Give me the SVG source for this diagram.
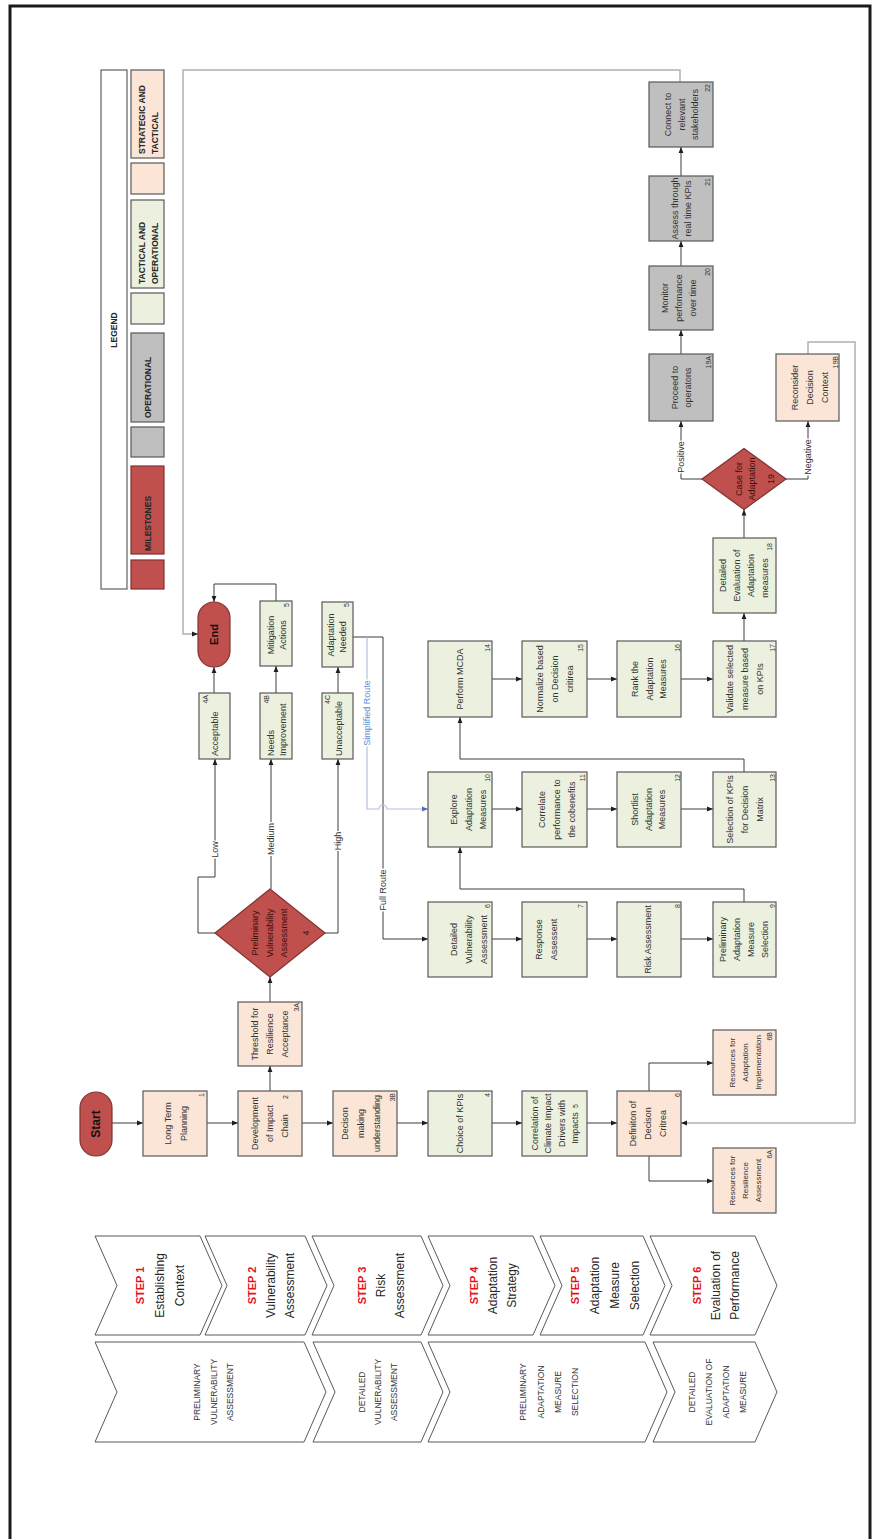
<svg xmlns="http://www.w3.org/2000/svg" width="880" height="1539" viewBox="0 0 880 1539">
<defs>
<style>
text{font-family:"Liberation Sans",Arial,Helvetica,sans-serif}
.bx{stroke:#595959;stroke-width:1.2}
.pe{fill:#fbe5d6}.gr{fill:#ebf1de}.gy{fill:#bfbfbf}
.rd{fill:#c0504d;stroke:#7f3330;stroke-width:1.2}
.t,.t tspan{font-size:9px;fill:#333;text-anchor:middle;dominant-baseline:central}
.t8,.t8 tspan{font-size:8px;fill:#333;text-anchor:middle;dominant-baseline:central}
.ts,.ts tspan{font-size:9px;fill:#333;text-anchor:start;dominant-baseline:central}
.n{font-size:7px;fill:#333;text-anchor:end;dominant-baseline:central}
.dt,.dt tspan{font-size:9px;fill:#3d0f0c;text-anchor:middle;dominant-baseline:central}
.se{font-size:12px;font-weight:bold;fill:#111;text-anchor:middle;dominant-baseline:central}
.c{fill:none;stroke:#3c3c3c;stroke-width:1;marker-end:url(#ah)}
.cg{fill:none;stroke:#b0b0b0;stroke-width:1.5;marker-end:url(#ah)}
.cb{fill:none;stroke:#b4c0dc;stroke-width:1.2;marker-end:url(#ahb)}
.lbg{fill:#fff}
.lb{font-size:9px;fill:#333;text-anchor:middle;dominant-baseline:central}
.lg,.lg tspan{font-size:8.5px;font-weight:bold;fill:#262626;dominant-baseline:central}
.ch{fill:#fff;stroke:#595959;stroke-width:1}
.st,.st tspan{font-size:12px;fill:#262626;text-anchor:middle;dominant-baseline:central}
.st .sr{fill:#e3131b;font-weight:bold;font-size:11px}
.ph,.ph tspan{font-size:8.5px;fill:#333;text-anchor:middle;dominant-baseline:central}
</style>
<marker id="ah" viewBox="0 0 10 10" refX="10" refY="5" markerWidth="6" markerHeight="6" markerUnits="userSpaceOnUse" orient="auto"><path d="M0,1L10,5L0,9z" fill="#1e1e1e"/></marker>
<marker id="ahb" viewBox="0 0 10 10" refX="10" refY="5" markerWidth="6" markerHeight="6" markerUnits="userSpaceOnUse" orient="auto"><path d="M0,1L10,5L0,9z" fill="#4a6fb5"/></marker>
</defs>
<rect x="0" y="0" width="880" height="1539" fill="#fff"/>
<rect x="10" y="6" width="860" height="1545" fill="none" stroke="#1a1a1a" stroke-width="3"/>
<g transform="matrix(0,-1,1,0,0,1539)">

<g id="phases">
<g id="ph-pva"><polygon class="ch" points="97,95 147,117 197,95 197,304 147,326 97,304"/><text class="ph"><tspan x="147" y="197">PRELIMINARY</tspan><tspan x="147" y="214">VULNERABILITY</tspan><tspan x="147" y="230">ASSESSMENT</tspan></text></g>
<g id="ph-dva"><polygon class="ch" points="97,313 147,335 197,313 197,421 147,443 97,421"/><text class="ph"><tspan x="147" y="362">DETAILED</tspan><tspan x="147" y="378">VULNERABILITY</tspan><tspan x="147" y="394">ASSESSMENT</tspan></text></g>
<g id="ph-pams"><polygon class="ch" points="97,428 147,450 197,428 197,645 147,667 97,645"/><text class="ph"><tspan x="147" y="523">PRELIMINARY</tspan><tspan x="147" y="541">ADAPTATION</tspan><tspan x="147" y="558">MEASURE</tspan><tspan x="147" y="575">SELECTION</tspan></text></g>
<g id="ph-deam"><polygon class="ch" points="97,653 147,675 197,653 197,755 147,777 97,755"/><text class="ph"><tspan x="147" y="692">DETAILED</tspan><tspan x="147" y="709">EVALUATION OF</tspan><tspan x="147" y="726">ADAPTATION</tspan><tspan x="147" y="743">MEASURE</tspan></text></g>
</g>

<g id="steps">
<g id="step1"><polygon class="ch" points="204,95 253.5,117 303,95 303,200 253.5,222 204,200"/><text class="st"><tspan class="sr" x="253.5" y="140">STEP 1</tspan><tspan x="253.5" y="160">Establishing</tspan><tspan x="253.5" y="180">Context</tspan></text></g>
<g id="step2"><polygon class="ch" points="204,205 253.5,227 303,205 303,305 253.5,327 204,305"/><text class="st"><tspan class="sr" x="253.5" y="252">STEP 2</tspan><tspan x="253.5" y="271">Vulnerability</tspan><tspan x="253.5" y="290">Assessment</tspan></text></g>
<g id="step3"><polygon class="ch" points="204,312 253.5,334 303,312 303,421 253.5,443 204,421"/><text class="st"><tspan class="sr" x="253.5" y="362">STEP 3</tspan><tspan x="253.5" y="381">Risk</tspan><tspan x="253.5" y="400">Assessment</tspan></text></g>
<g id="step4"><polygon class="ch" points="204,428 253.5,450 303,428 303,533 253.5,555 204,533"/><text class="st"><tspan class="sr" x="253.5" y="474">STEP 4</tspan><tspan x="253.5" y="493">Adaptation</tspan><tspan x="253.5" y="512">Strategy</tspan></text></g>
<g id="step5"><polygon class="ch" points="204,540 253.5,562 303,540 303,643 253.5,665 204,643"/><text class="st"><tspan class="sr" x="253.5" y="575">STEP 5</tspan><tspan x="253.5" y="595">Adaptation</tspan><tspan x="253.5" y="615">Measure</tspan><tspan x="253.5" y="635">Selection</tspan></text></g>
<g id="step6"><polygon class="ch" points="204,650 253.5,672 303,650 303,755 253.5,777 204,755"/><text class="st"><tspan class="sr" x="253.5" y="697">STEP 6</tspan><tspan x="253.5" y="716">Evaluation of</tspan><tspan x="253.5" y="735">Performance</tspan></text></g>
</g>

<g id="legend">
<rect x="950" y="101" width="519" height="26" fill="#fff" stroke="#404040" stroke-width="1"/>
<text class="lg" x="1209" y="114" text-anchor="middle">LEGEND</text>
<rect class="bx pe" x="1381" y="131" width="88" height="33"/>
<text class="lg" text-anchor="start"><tspan x="1385" y="142">STRATEGIC AND</tspan><tspan x="1385" y="155">TACTICAL</tspan></text>
<rect class="bx pe" x="1345" y="131" width="31" height="33"/>
<rect class="bx gr" x="1251" y="131" width="88" height="33"/>
<text class="lg" text-anchor="start"><tspan x="1255" y="142">TACTICAL AND</tspan><tspan x="1255" y="155">OPERATIONAL</tspan></text>
<rect class="bx gr" x="1215" y="131" width="31" height="33"/>
<rect class="bx gy" x="1117" y="131" width="89" height="33"/>
<text class="lg" x="1121" y="148" text-anchor="start">OPERATIONAL</text>
<rect class="bx gy" x="1082" y="131" width="30" height="33"/>
<rect class="rd" x="985" y="131" width="88" height="33"/>
<text class="lg" x="988" y="148" text-anchor="start">MILESTONES</text>
<rect class="rd" x="950" y="131" width="29" height="33"/>
</g>

<g id="connectors">
<path class="c" d="M416,112V143"/>
<path class="c" d="M416,207V238"/>
<path class="c" d="M416,302V333"/>
<path class="c" d="M416,397V428"/>
<path class="c" d="M416,492V522"/>
<path class="c" d="M416,587V617"/>
<path class="c" d="M448,270H473"/>
<path class="c" d="M448,649H476V713"/>
<path class="c" d="M383,649H358V713"/>
<path class="c" d="M537,270H562"/>
<path class="c" d="M606,215V198H662V215H780"/>
<path class="c" d="M650,271H780"/>
<path class="c" d="M606,325V338H780"/>
<path class="c" d="M846,214H872"/>
<path class="c" d="M846,276H873"/>
<path class="c" d="M846,338H872"/>
<path class="c" d="M938,276H955V214H937"/>
<path class="cg" d="M1457,680H1469V183H905V198"/>
<path class="c" d="M902,353V383H600V428"/>
<path class="cb" d="M902,367H730V379A4,4 0 0 1 730,387V428"/>
<path class="c" d="M600,492V522"/>
<path class="c" d="M600,587V617"/>
<path class="c" d="M600,681V713"/>
<path class="c" d="M730,492V522"/>
<path class="c" d="M730,587V617"/>
<path class="c" d="M730,681V713"/>
<path class="c" d="M860,492V522"/>
<path class="c" d="M860,587V617"/>
<path class="c" d="M860,681V713"/>
<path class="c" d="M637,744H650V460H692"/>
<path class="c" d="M767,744H780V460H822"/>
<path class="c" d="M898,744H926"/>
<path class="c" d="M1001,744H1029.5"/>
<path class="c" d="M1060,702V681H1118"/>
<path class="c" d="M1060,786V808H1118"/>
<path class="c" d="M1185,681H1209"/>
<path class="c" d="M1273,681H1298"/>
<path class="c" d="M1363,681H1392"/>
<path class="cg" d="M1185,808H1197V855H416V681"/>
<g id="connector-labels">
<rect class="lbg" x="680.5" y="210" width="18" height="10"/><text class="lb" x="689.5" y="215">Low</text>
<rect class="lbg" x="683" y="266" width="34" height="10"/><text class="lb" x="700" y="271">Medium</text>
<rect class="lbg" x="688" y="333" width="20" height="10"/><text class="lb" x="698" y="338">High</text>
<rect class="lbg" x="627.5" y="378" width="43" height="10"/><text class="lb" x="649" y="383">Full Route</text>
<rect class="lbg" x="792.5" y="362" width="67" height="10"/><text class="lb" x="826" y="367" style="fill:#5b8fd0">Simplified Route</text>
<rect class="lbg" x="1065.5" y="676" width="33" height="10"/><text class="lb" x="1082" y="681">Positive</text>
<rect class="lbg" x="1063.5" y="803" width="37" height="10"/><text class="lb" x="1082" y="808">Negative</text>
</g>
</g>

<g id="n-start"><rect class="rd" x="383" y="80" width="64" height="32" rx="16"/><text class="se" x="415" y="96">Start</text></g>
<g id="n-1"><rect class="bx pe" x="383" y="143" width="65" height="64"/><text class="t"><tspan x="415.5" y="168">Long Term</tspan><tspan x="415.5" y="184">Planning</tspan></text><text class="n" x="446" y="201">1</text></g>
<g id="n-2"><rect class="bx pe" x="383" y="238" width="65" height="64"/><text class="t"><tspan x="415.5" y="255">Development</tspan><tspan x="415.5" y="270">of Impact</tspan><tspan x="413" y="285">Chain</tspan></text><text class="n" x="444" y="285">2</text></g>
<g id="n-3a"><rect class="bx pe" x="473" y="238" width="64" height="64"/><text class="t"><tspan x="505" y="255">Threshold for</tspan><tspan x="505" y="270">Resilience</tspan><tspan x="505" y="285">Acceptance</tspan></text><text class="n" x="536" y="296">3A</text></g>
<g id="n-3b"><rect class="bx pe" x="383" y="333" width="65" height="64"/><text class="t"><tspan x="415.5" y="345">Decison</tspan><tspan x="415.5" y="361">making</tspan><tspan x="415.5" y="377">understanding</tspan></text><text class="n" x="446" y="392">3B</text></g>
<g id="n-4"><rect class="bx gr" x="383" y="428" width="65" height="64"/><text class="t" x="415.5" y="460">Choice of KPIs</text><text class="n" x="446" y="487">4</text></g>
<g id="n-5"><rect class="bx gr" x="383" y="522" width="65" height="65"/><text class="t"><tspan x="415.5" y="535">Correlation of</tspan><tspan x="415.5" y="548">Climate Impact</tspan><tspan x="415.5" y="562">Drivers with</tspan><tspan x="411" y="575">Impacts</tspan></text><text class="n" x="435" y="575">5</text></g>
<g id="n-6"><rect class="bx pe" x="383" y="617" width="65" height="64"/><text class="t"><tspan x="415.5" y="633">Definiton of</tspan><tspan x="415.5" y="648">Decison</tspan><tspan x="415.5" y="663">Critrea</tspan></text><text class="n" x="446" y="677">6</text></g>
<g id="n-6b"><rect class="bx pe" x="444" y="713" width="65" height="63"/><text class="t8"><tspan x="476.5" y="732">Resources for</tspan><tspan x="476.5" y="745">Adaptation</tspan><tspan x="476.5" y="758">Implementation</tspan></text><text class="n" x="507" y="769">6B</text></g>
<g id="n-6a"><rect class="bx pe" x="326" y="713" width="65" height="63"/><text class="t8"><tspan x="358.5" y="732">Resources for</tspan><tspan x="358.5" y="745">Resilience</tspan><tspan x="358.5" y="758">Assessment</tspan></text><text class="n" x="389" y="769">6A</text></g>
<g id="d-4"><polygon class="rd" points="562,270 606,215 650,270 606,325"/><text class="dt"><tspan x="606" y="255">Preliminary</tspan><tspan x="606" y="270">Vulnerability</tspan><tspan x="606" y="284">Assessment</tspan><tspan x="606" y="306">4</tspan></text></g>
<g id="n-4a"><rect class="bx gr" x="780" y="199" width="66" height="31"/><text class="ts" x="783" y="215">Acceptable</text><text class="n" x="844" y="205">4A</text></g>
<g id="n-4b"><rect class="bx gr" x="780" y="260" width="66" height="32"/><text class="ts"><tspan x="783" y="271">Needs</tspan><tspan x="783" y="283">Improvement</tspan></text><text class="n" x="844" y="266">4B</text></g>
<g id="n-4c"><rect class="bx gr" x="780" y="322" width="66" height="31"/><text class="ts" x="783" y="339">Unacceptable</text><text class="n" x="844" y="327">4C</text></g>
<g id="n-end"><rect class="rd" x="872" y="198" width="65" height="32" rx="16"/><text class="se" x="904.5" y="214" style="font-size:11px">End</text></g>
<g id="n-mit"><rect class="bx gr" x="873" y="260" width="65" height="32"/><text class="t"><tspan x="904" y="271">Mitigation</tspan><tspan x="904" y="283">Actions</tspan></text><text class="n" x="936" y="286">5</text></g>
<g id="n-adn"><rect class="bx gr" x="872" y="322" width="65" height="31"/><text class="t"><tspan x="904" y="331">Adaptation</tspan><tspan x="902" y="343">Needed</tspan></text><text class="n" x="936" y="346">5</text></g>
<g id="n-6d"><rect class="bx gr" x="562" y="428" width="75" height="64"/><text class="t"><tspan x="599.5" y="454">Detailed</tspan><tspan x="599.5" y="469">Vulnerability</tspan><tspan x="599.5" y="484">Assessment</tspan></text><text class="n" x="635" y="487">6</text></g>
<g id="n-7"><rect class="bx gr" x="562" y="522" width="75" height="65"/><text class="t"><tspan x="599.5" y="539">Response</tspan><tspan x="599.5" y="554">Assessent</tspan></text><text class="n" x="635" y="580">7</text></g>
<g id="n-8"><rect class="bx gr" x="562" y="617" width="75" height="64"/><text class="t" x="599.5" y="648">Risk Assessment</text><text class="n" x="635" y="677">8</text></g>
<g id="n-9"><rect class="bx gr" x="562" y="713" width="75" height="63"/><text class="t"><tspan x="599.5" y="723">Preliminary</tspan><tspan x="599.5" y="737">Adaptation</tspan><tspan x="599.5" y="751">Measure</tspan><tspan x="599.5" y="765">Selection</tspan></text><text class="n" x="635" y="772">9</text></g>
<g id="n-10"><rect class="bx gr" x="692" y="428" width="75" height="64"/><text class="t"><tspan x="729.5" y="454">Explore</tspan><tspan x="729.5" y="469">Adaptation</tspan><tspan x="729.5" y="483">Measures</tspan></text><text class="n" x="765" y="487">10</text></g>
<g id="n-11"><rect class="bx gr" x="692" y="522" width="75" height="65"/><text class="t"><tspan x="729.5" y="542">Correlate</tspan><tspan x="729.5" y="557">performance to</tspan><tspan x="729.5" y="572">the cobenefits</tspan></text><text class="n" x="765" y="582">11</text></g>
<g id="n-12"><rect class="bx gr" x="692" y="617" width="75" height="64"/><text class="t"><tspan x="729.5" y="635">Shortlist</tspan><tspan x="729.5" y="649">Adaptation</tspan><tspan x="729.5" y="662">Measures</tspan></text><text class="n" x="765" y="677">12</text></g>
<g id="n-13"><rect class="bx gr" x="692" y="713" width="75" height="63"/><text class="t"><tspan x="729.5" y="730">Selection of KPIs</tspan><tspan x="729.5" y="745">for Decision</tspan><tspan x="729.5" y="760">Matrix</tspan></text><text class="n" x="765" y="772">13</text></g>
<g id="n-14"><rect class="bx gr" x="822" y="428" width="76" height="64"/><text class="t" x="860" y="460">Perform MCDA</text><text class="n" x="895" y="487">14</text></g>
<g id="n-15"><rect class="bx gr" x="822" y="522" width="76" height="65"/><text class="t"><tspan x="860" y="540">Normalize based</tspan><tspan x="860" y="555">on Decision</tspan><tspan x="860" y="570">critirea</tspan></text><text class="n" x="895" y="580">15</text></g>
<g id="n-16"><rect class="bx gr" x="822" y="617" width="76" height="64"/><text class="t"><tspan x="860" y="635">Rank the</tspan><tspan x="860" y="650">Adaptation</tspan><tspan x="860" y="663">Measures</tspan></text><text class="n" x="895" y="677">16</text></g>
<g id="n-17"><rect class="bx gr" x="822" y="713" width="76" height="63"/><text class="t"><tspan x="860" y="730">Validate selected</tspan><tspan x="860" y="745">measure based</tspan><tspan x="860" y="760">on KPIs</tspan></text><text class="n" x="895" y="772">17</text></g>
<g id="n-18"><rect class="bx gr" x="926" y="713" width="75" height="63"/><text class="t"><tspan x="963.5" y="723">Detailed</tspan><tspan x="963.5" y="737">Evaluation of</tspan><tspan x="963.5" y="751">Adaptation</tspan><tspan x="961" y="765">measures</tspan></text><text class="n" x="996" y="769">18</text></g>
<g id="d-19"><polygon class="rd" points="1029.5,744 1060,702 1090.5,744 1060,786"/><text class="dt"><tspan x="1060" y="739">Case for</tspan><tspan x="1060" y="752">Adaptation</tspan><tspan x="1060" y="771">19</tspan></text></g>
<g id="n-19a"><rect class="bx gy" x="1118" y="649" width="67" height="64"/><text class="t"><tspan x="1151.5" y="675">Proceed to</tspan><tspan x="1151.5" y="688">operatons</tspan></text><text class="n" x="1183" y="708">19A</text></g>
<g id="n-19b"><rect class="bx pe" x="1118" y="776" width="67" height="63"/><text class="t"><tspan x="1151.5" y="795">Reconsider</tspan><tspan x="1151.5" y="810">Decision</tspan><tspan x="1151.5" y="825">Context</tspan></text><text class="n" x="1183" y="835">19B</text></g>
<g id="n-20"><rect class="bx gy" x="1209" y="649" width="64" height="64"/><text class="t"><tspan x="1241" y="665">Monitor</tspan><tspan x="1241" y="679">perfomance</tspan><tspan x="1241" y="693">over time</tspan></text><text class="n" x="1271" y="707">20</text></g>
<g id="n-21"><rect class="bx gy" x="1298" y="649" width="65" height="64"/><text class="t"><tspan x="1330.5" y="675">Assess through</tspan><tspan x="1330.5" y="688">real time KPIs</tspan></text><text class="n" x="1361" y="707">21</text></g>
<g id="n-22"><rect class="bx gy" x="1392" y="649" width="65" height="64"/><text class="t"><tspan x="1424.5" y="668">Connect to</tspan><tspan x="1424.5" y="682">relevant</tspan><tspan x="1424.5" y="695">stakeholders</tspan></text><text class="n" x="1455" y="707">22</text></g>

</g>
</svg>
